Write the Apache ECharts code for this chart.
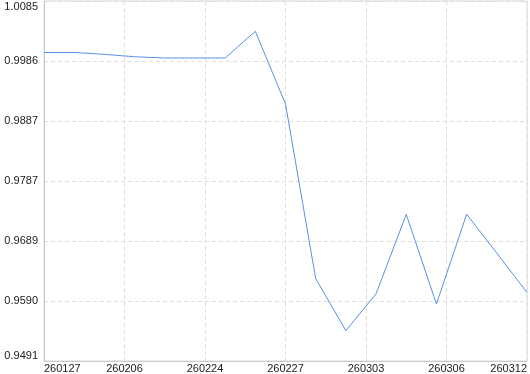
<!DOCTYPE html>
<html>
<head>
<meta charset="utf-8">
<script src="https://cdn.jsdelivr.net/npm/echarts@6/dist/echarts.min.js"></script>
<style>html,body{margin:0;padding:0;background:#fff;}#c{width:530px;height:374px;}</style>
</head>
<body>
<div id="c"></div>
<script>
const categories = ['260127','260130','260206','260210','260213','260224','260225','260226','260227','260302','260303','260304','260305','260306','260310','260311','260312'];
const values = [1.0000,1.0000,0.9997,0.9993,0.9991,0.9991,0.9991,1.0035,0.9915,0.9627,0.9541,0.9602,0.9733,0.9585,0.9733,0.9669,0.9604];
const yTickLabels = ['0.9491','0.9590','0.9689','0.9787','0.9887','0.9986','1.0085'];
const yMin = 0.9491, yMax = 1.0085;

const chart = echarts.init(document.getElementById('c'), null, {renderer:'canvas'});
const n = categories.length - 1;
const font = {fontFamily:'Liberation Sans', fontSize:11, color:'#222'};
chart.setOption({
  animation:false,
  grid:{left:44, right:2, top:1, bottom:13, show:true, borderColor:'#d8d8d8', borderWidth:1},
  xAxis:{
    type:'value', min:0, max:n, interval:n/6,
    axisLine:{show:true, lineStyle:{color:'#cccccc'}},
    axisTick:{show:false},
    splitLine:{show:true, lineStyle:{color:'#dddddd', type:[4,3]}},
    axisLabel:Object.assign({margin:2, alignMinLabel:'left', alignMaxLabel:'right', showMinLabel:true, showMaxLabel:true,
      formatter:function(v){return categories[Math.min(n, Math.floor(v+1e-6))];}}, font)
  },
  yAxis:{
    type:'value', min:yMin, max:yMax, interval:(yMax-yMin)/6,
    axisLine:{show:true, lineStyle:{color:'#cccccc'}},
    axisTick:{show:false},
    splitLine:{show:true, lineStyle:{color:'#dddddd', type:[4,3]}},
    axisLabel:Object.assign({margin:6, verticalAlignMaxLabel:'top', verticalAlignMinLabel:'bottom', showMinLabel:true, showMaxLabel:true,
      formatter:function(v){return yTickLabels[Math.round((v-yMin)/((yMax-yMin)/6))];}}, font)
  },
  series:[{
    type:'line', showSymbol:false, symbol:'none',
    data: values.map(function(v,i){return [i,v];}),
    lineStyle:{color:'#5591e6', width:1}
  }]
});
</script>
</body>
</html>
